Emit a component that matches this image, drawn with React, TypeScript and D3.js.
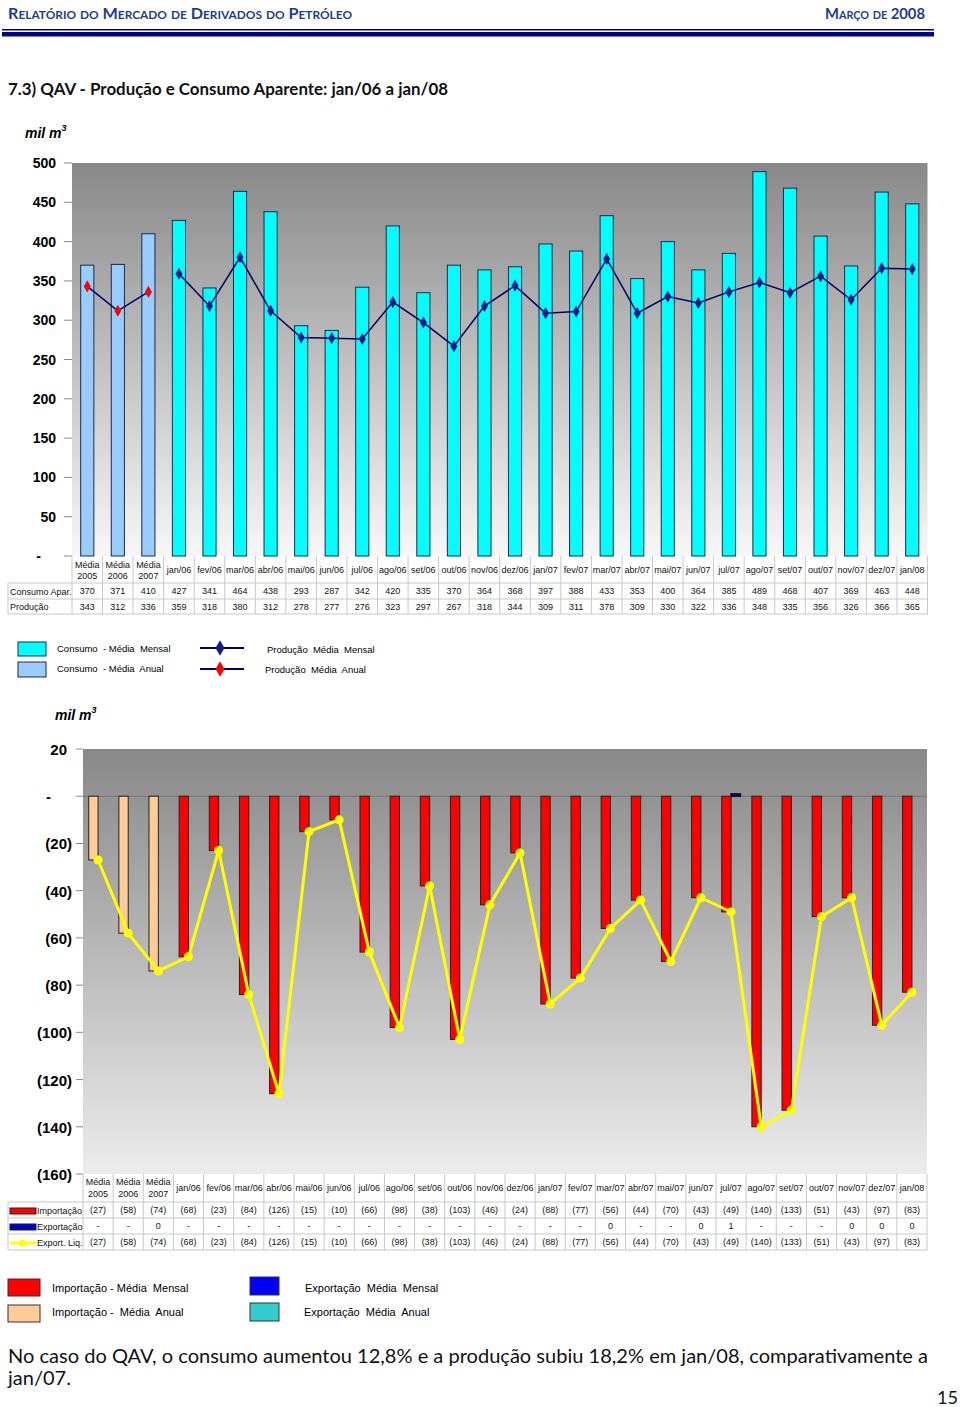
import React from 'react';
import * as d3 from 'd3';

// categories shared by both charts
const categories = [
  'Média\n2005', 'Média\n2006', 'Média\n2007',
  'jan/06', 'fev/06', 'mar/06', 'abr/06', 'mai/06', 'jun/06', 'jul/06', 'ago/06', 'set/06', 'out/06', 'nov/06', 'dez/06',
  'jan/07', 'fev/07', 'mar/07', 'abr/07', 'mai/07', 'jun/07', 'jul/07', 'ago/07', 'set/07', 'out/07', 'nov/07', 'dez/07',
  'jan/08',
];
const N_AVG = 3;

// chart 1: consumo aparente e produção (mil m3)
const consumo = [370, 371, 410, 427, 341, 464, 438, 293, 287, 342, 420, 335, 370, 364, 368, 397, 388, 433, 353, 400, 364, 385, 489, 468, 407, 369, 463, 448];
const producao = [343, 312, 336, 359, 318, 380, 312, 278, 277, 276, 323, 297, 267, 318, 344, 309, 311, 378, 309, 330, 322, 336, 348, 335, 356, 326, 366, 365];
const topTicks = [0, 50, 100, 150, 200, 250, 300, 350, 400, 450, 500];

// chart 2: importação / exportação (mil m3)
const importacao = [-27, -58, -74, -68, -23, -84, -126, -15, -10, -66, -98, -38, -103, -46, -24, -88, -77, -56, -44, -70, -43, -49, -140, -133, -51, -43, -97, -83];
const exportacao = [0, 0, 0, 0, 0, 0, 0, 0, 0, 0, 0, 0, 0, 0, 0, 0, 0, 0, 0, 0, 0, 1, 0, 0, 0, 0, 0, 0];
const exportLabels = ['-', '-', '0', '-', '-', '-', '-', '-', '-', '-', '-', '-', '-', '-', '-', '-', '-', '0', '-', '-', '0', '1', '-', '-', '-', '0', '0', '0'];
const exportLiq = [-27, -58, -74, -68, -23, -84, -126, -15, -10, -66, -98, -38, -103, -46, -24, -88, -77, -56, -44, -70, -43, -49, -140, -133, -51, -43, -97, -83];
const bottomTicks = [20, 0, -20, -40, -60, -80, -100, -120, -140, -160];

const ARIAL = 'Liberation Sans, Arial, sans-serif';
const GOTHIC = 'Lato, DejaVu Sans, sans-serif';
const GRID = '#c8c8c8';
const NAVY = '#000066';
const PRE = { whiteSpace: 'pre' as const };

const fmtParen = (v: number) => (v < 0 ? `(${-v})` : v === 0 ? '-' : `${v}`);

function CatLabel({ x, y, label, lh }: { x: number; y: number; label: string; lh: number }) {
  const parts = label.split('\n');
  if (parts.length === 1) {
    return <text x={x} y={y} textAnchor="middle">{label}</text>;
  }
  return (
    <text x={x} textAnchor="middle">
      <tspan x={x} y={y - lh / 2}>{parts[0]}</tspan>
      <tspan x={x} y={y + lh / 2}>{parts[1]}</tspan>
    </text>
  );
}

function TopChart() {
  const left = 72, right = 927.5, top = 163, bottom = 556;
  const x = d3.scaleBand<number>().domain(d3.range(categories.length)).range([left, right]);
  const y = d3.scaleLinear().domain([0, 500]).range([bottom, top]);
  const bw = x.bandwidth();
  const barW = bw * 0.43;
  const cx = (i: number) => (x(i) as number) + bw / 2;
  const prodLine = d3.line<number>().x(i => cx(i)).y(i => y(producao[i]));
  const avgIdx = d3.range(N_AVG);
  const monIdx = d3.range(N_AVG, categories.length);
  const diamond = d3.symbol(d3.symbolDiamond, 42)() as string;
  const diamondBig = d3.symbol(d3.symbolDiamond, 70)() as string;
  const rowH = [556, 583, 599, 614];

  return (
    <g>
      <defs>
        <linearGradient id="bg1" x1="0" y1="0" x2="0" y2="1">
          <stop offset="0" stopColor="#888888" />
          <stop offset="1" stopColor="#f7f7f7" />
        </linearGradient>
      </defs>
      <text x={25} y={138} fontFamily={ARIAL} fontSize={14} fontWeight="bold" fontStyle="italic">
        mil m<tspan dy={-7} fontSize={9}>3</tspan>
      </text>
      <rect x={left} y={top} width={right - left} height={bottom - top} fill="url(#bg1)" />
      {topTicks.map(t => (
        <g key={t}>
          <line x1={64} x2={left} y1={y(t)} y2={y(t)} stroke="#888" />
          <text x={t === 0 ? 41 : 56} y={y(t) + 5} textAnchor="end" fontFamily={ARIAL} fontSize={14} fontWeight="bold">
            {t === 0 ? '-' : t}
          </text>
        </g>
      ))}
      {consumo.map((v, i) => (
        <rect key={i} x={cx(i) - barW / 2} y={y(v)} width={barW} height={y(0) - y(v)}
          fill={i < N_AVG ? '#99ccff' : '#00ffff'} stroke="#1a2a4a" strokeWidth={1} />
      ))}
      <path d={prodLine(avgIdx) || ''} fill="none" stroke={NAVY} strokeWidth={1.5} />
      <path d={prodLine(monIdx) || ''} fill="none" stroke={NAVY} strokeWidth={1.5} />
      {producao.map((v, i) => (
        <path key={i} d={diamond} transform={`translate(${cx(i)},${y(v)})`} fill={i < N_AVG ? '#ff0000' : '#1a1a8a'} />
      ))}
      {/* data table */}
      <g fontFamily={ARIAL} fontSize={9} fill="#111">
        {[583, 599, 614].map(yy => (
          <line key={yy} x1={8} x2={right} y1={yy} y2={yy} stroke={GRID} />
        ))}
        <line x1={8} x2={8} y1={583} y2={614} stroke={GRID} />
        {d3.range(categories.length + 1).map(i => {
          const xx = i === categories.length ? right : (x(i) as number);
          return <line key={i} x1={xx} x2={xx} y1={rowH[0]} y2={rowH[3]} stroke={GRID} />;
        })}
        {categories.map((c, i) => (
          <CatLabel key={c} x={cx(i)} y={573} label={c} lh={11} />
        ))}
        <text x={10} y={595}>Consumo Apar.</text>
        <text x={10} y={610}>Produção</text>
        {consumo.map((v, i) => <text key={i} x={cx(i)} y={594} textAnchor="middle">{v}</text>)}
        {producao.map((v, i) => <text key={i} x={cx(i)} y={610} textAnchor="middle">{v}</text>)}
      </g>
      {/* legend */}
      <g fontFamily={ARIAL} fontSize={9.5}>
        <rect x={18} y={642} width={28} height={14} fill="#00ffff" stroke="#1a2a4a" />
        <rect x={18} y={662} width={28} height={15} fill="#99ccff" stroke="#1a2a4a" />
        <text x={57} y={652} style={PRE}>Consumo  - Média  Mensal</text>
        <text x={57} y={672} style={PRE}>Consumo  - Média  Anual</text>
        <line x1={200} x2={244} y1={648} y2={648} stroke={NAVY} strokeWidth={2} />
        <path d={diamondBig} transform="translate(220,648)" fill="#1a1a8a" />
        <line x1={200} x2={244} y1={669} y2={669} stroke={NAVY} strokeWidth={2} />
        <path d={diamondBig} transform="translate(220,669)" fill="#ff0000" />
        <text x={267} y={653} style={PRE}>Produção  Média  Mensal</text>
        <text x={265} y={673} style={PRE}>Produção  Média  Anual</text>
      </g>
    </g>
  );
}

function BottomChart() {
  const left = 83, right = 927, top = 749, bottom = 1174;
  const x = d3.scaleBand<number>().domain(d3.range(categories.length)).range([left, right]);
  const y = d3.scaleLinear().domain([-160, 20]).range([bottom, top]);
  const bw = x.bandwidth();
  const barW = bw * 0.31;
  const cx = (i: number) => (x(i) as number) + bw / 2;
  const liq = d3.line<number>().x((_, i) => cx(i)).y(d => y(d));
  const rows = [1174, 1202, 1218, 1234, 1250];

  return (
    <g>
      <defs>
        <linearGradient id="bg2" x1="0" y1="0" x2="0" y2="1">
          <stop offset="0" stopColor="#888888" />
          <stop offset="1" stopColor="#ececec" />
        </linearGradient>
      </defs>
      <text x={55} y={720} fontFamily={ARIAL} fontSize={14} fontWeight="bold" fontStyle="italic">
        mil m<tspan dy={-7} fontSize={9}>3</tspan>
      </text>
      <rect x={left} y={top} width={right - left} height={bottom - top} fill="url(#bg2)" />
      <line x1={left} x2={right} y1={y(0)} y2={y(0)} stroke="#777" strokeWidth={1} />
      {bottomTicks.map(t => (
        <g key={t}>
          <line x1={76} x2={left} y1={y(t)} y2={y(t)} stroke="#888" />
          <text x={t > 0 ? 67 : t === 0 ? 51 : 72} y={y(t) + 6} textAnchor="end" fontFamily={ARIAL} fontSize={15} fontWeight="bold">
            {fmtParen(t)}
          </text>
        </g>
      ))}
      {importacao.map((v, i) => (
        <rect key={i} x={cx(i) - barW} y={y(0)} width={barW} height={y(v) - y(0)}
          fill={i < N_AVG ? '#ffcc99' : '#ff0000'} stroke="#222" strokeWidth={1} />
      ))}
      {exportacao.map((v, i) => (
        <rect key={i} x={cx(i)} y={y(v)} width={barW} height={Math.max(0, y(0) - y(v))}
          fill={i < N_AVG ? '#33cccc' : '#0000ff'} stroke="#111" strokeWidth={v > 0 ? 1.5 : 1} />
      ))}
      <path d={liq(exportLiq) || ''} fill="none" stroke="#ffff00" strokeWidth={3} />
      {exportLiq.map((v, i) => (
        <circle key={i} cx={cx(i)} cy={y(v)} r={4.5} fill="#ffff00" />
      ))}
      {/* data table */}
      <g fontFamily={ARIAL} fontSize={9} fill="#111">
        {rows.slice(1).map(yy => (
          <line key={yy} x1={8} x2={right} y1={yy} y2={yy} stroke={GRID} />
        ))}
        <line x1={8} x2={8} y1={1202} y2={1250} stroke={GRID} />
        {d3.range(categories.length + 1).map(i => {
          const xx = i === categories.length ? right : (x(i) as number);
          return <line key={i} x1={xx} x2={xx} y1={rows[0]} y2={rows[4]} stroke={GRID} />;
        })}
        {categories.map((c, i) => (
          <CatLabel key={c} x={cx(i)} y={1191} label={c} lh={12} />
        ))}
        <rect x={10} y={1208} width={26} height={6} fill="#ff0000" stroke="#222" />
        <text x={37} y={1214}>Importação</text>
        <rect x={10} y={1224} width={26} height={6} fill="#0000cc" stroke="#222" />
        <text x={37} y={1230}>Exportação</text>
        <line x1={10} x2={36} y1={1243} y2={1243} stroke="#ffff00" strokeWidth={3} />
        <circle cx={23} cy={1243} r={3.5} fill="#ffff00" />
        <text x={37} y={1246}>Export. Liq.</text>
        {importacao.map((v, i) => <text key={i} x={cx(i)} y={1213} textAnchor="middle">{fmtParen(v)}</text>)}
        {exportLabels.map((s, i) => <text key={i} x={cx(i)} y={1229} textAnchor="middle">{s}</text>)}
        {exportLiq.map((v, i) => <text key={i} x={cx(i)} y={1245} textAnchor="middle">{fmtParen(v)}</text>)}
      </g>
      {/* legend */}
      <g fontFamily={ARIAL} fontSize={11}>
        <rect x={8} y={1279} width={32} height={17} fill="#ff0000" stroke="#333" />
        <rect x={8} y={1305} width={32} height={17} fill="#ffcc99" stroke="#333" />
        <text x={52} y={1292} style={PRE}>Importação - Média  Mensal</text>
        <text x={52} y={1316} style={PRE}>Importação -  Média  Anual</text>
        <rect x={250} y={1277} width={29} height={18} fill="#0000ff" stroke="#333" />
        <rect x={250} y={1303} width={29} height={18} fill="#33cccc" stroke="#333" />
        <text x={305} y={1292} style={PRE}>Exportação  Média  Mensal</text>
        <text x={304} y={1316} style={PRE}>Exportação  Média  Anual</text>
      </g>
    </g>
  );
}

export default function App() {
  return (
    <svg width={960} height={1407} viewBox="0 0 960 1407"
      style={{ position: 'absolute', left: 0, top: 0, background: '#fff' }}>
      <rect width={960} height={1407} fill="#fff" />
      {/* page header */}
      <text x={8} y={19} fontFamily={GOTHIC} fontWeight="bold" fontSize={15} fill="#1c3d8f"
        style={{ fontVariant: 'small-caps' }} textLength={344} lengthAdjust="spacingAndGlyphs">
        Relatório do Mercado de Derivados do Petróleo
      </text>
      <text x={925} y={19} textAnchor="end" fontFamily={GOTHIC} fontWeight="bold" fontSize={15} fill="#1c3d8f"
        style={{ fontVariant: 'small-caps' }} textLength={100} lengthAdjust="spacingAndGlyphs">
        Março de 2008
      </text>
      <rect x={2} y={29} width={932} height={1.5} fill="#000080" />
      <rect x={2} y={32} width={932} height={4.5} fill="#000080" />
      <text x={8} y={95} fontFamily={GOTHIC} fontWeight="bold" fontSize={17} fill="#111"
        textLength={440} lengthAdjust="spacingAndGlyphs">
        7.3) QAV - Produção e Consumo Aparente: jan/06 a jan/08
      </text>
      <TopChart />
      <BottomChart />
      {/* commentary */}
      <text x={8} y={1363} fontFamily={GOTHIC} fontSize={20} fill="#111" textLength={920} lengthAdjust="spacingAndGlyphs">
        No caso do QAV, o consumo aumentou 12,8% e a produção subiu 18,2% em jan/08, comparativamente a
      </text>
      <text x={8} y={1385} fontFamily={GOTHIC} fontSize={20} fill="#111">jan/07.</text>
      <text x={958} y={1404} textAnchor="end" fontFamily={GOTHIC} fontSize={18} fill="#111">15</text>
    </svg>
  );
}
